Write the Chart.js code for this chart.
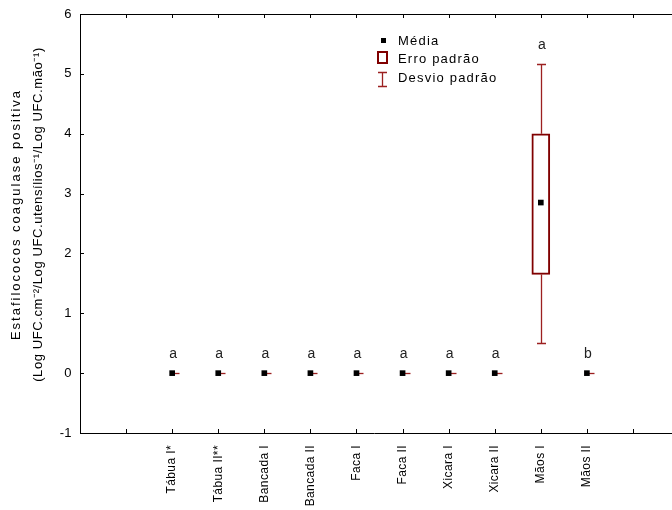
<!DOCTYPE html>
<html>
<head>
<meta charset="utf-8">
<script src="https://cdn.jsdelivr.net/npm/chart.js@4.4.1/dist/chart.umd.min.js"></script>
<style>
  html, body { margin: 0; padding: 0; background: #fff; overflow: hidden; }
  canvas { display: block; }
</style>
</head>
<body>
<canvas id="chart" width="672" height="510"></canvas>
<script>
// values
const categories = ["Tábua I*", "Tábua II**", "Bancada I", "Bancada II", "Faca I", "Faca II", "Xicara I", "Xicara II", "Mãos I", "Mãos II"];
const means  = [0, 0, 0, 0, 0, 0, 0, 0, 2.85, 0];
const seLow  = [0, 0, 0, 0, 0, 0, 0, 0, 1.65, 0];
const seHigh = [0, 0, 0, 0, 0, 0, 0, 0, 4.0, 0];
const sdLow  = [0, 0, 0, 0, 0, 0, 0, 0, 0.5, 0];
const sdHigh = [0, 0, 0, 0, 0, 0, 0, 0, 5.16, 0];
const letters = ["a", "a", "a", "a", "a", "a", "a", "a", "a", "b"];
const yTicks = [-1, 0, 1, 2, 3, 4, 5, 6];
const yTitle = ["Estafilococos coagulase positiva", "(Log UFC.cm⁻²/Log UFC.utensílios⁻¹/Log UFC.mão⁻¹)"];

const RED = "#800000";
const WHISKER = "#9c2020";
const FONT = "'Liberation Sans', Arial, sans-serif";

const boxData = categories
  .map((c, i) => (seHigh[i] > seLow[i] ? { x: i, y: [seLow[i], seHigh[i]] } : null))
  .filter(Boolean);
const meanData = categories.map((c, i) => ({ x: i, y: means[i] }));

const crisp = v => Math.round(v) + 0.5;

const extras = {
  id: "extras",
  beforeDraw(chart) {
    chart.ctx.letterSpacing = "0.4px";
  },
  beforeDatasetsDraw(chart) {
    const { ctx, scales: { x, y } } = chart;
    ctx.save();
    ctx.strokeStyle = WHISKER;
    ctx.lineWidth = 1.3;
    categories.forEach((c, i) => {
      const px = crisp(x.getPixelForValue(i));
      if (sdHigh[i] === sdLow[i]) {
        const py = crisp(y.getPixelForValue(means[i]));
        ctx.beginPath();
        ctx.moveTo(px, py);
        ctx.lineTo(px + 7, py);
        ctx.stroke();
        return;
      }
      const top = crisp(y.getPixelForValue(sdHigh[i]));
      const bot = crisp(y.getPixelForValue(sdLow[i]));
      const bTop = y.getPixelForValue(seHigh[i]);
      const bBot = y.getPixelForValue(seLow[i]);
      ctx.beginPath();
      ctx.moveTo(px, top); ctx.lineTo(px, bTop);
      ctx.moveTo(px, bBot); ctx.lineTo(px, bot);
      ctx.moveTo(px - 4.5, top); ctx.lineTo(px + 4.5, top);
      ctx.moveTo(px - 4.5, bot); ctx.lineTo(px + 4.5, bot);
      ctx.stroke();
    });
    ctx.restore();
  },
  afterDraw(chart) {
    const { ctx, chartArea: a, scales: { x, y } } = chart;
    ctx.save();
    // frame lines run to the edge of the picture, plus inner tick marks
    ctx.strokeStyle = "#000";
    ctx.lineWidth = 1;
    ctx.beginPath();
    ctx.moveTo(a.left, crisp(a.top));
    ctx.lineTo(chart.width, crisp(a.top));
    ctx.moveTo(a.right - 1, crisp(a.bottom));
    ctx.lineTo(chart.width, crisp(a.bottom));
    x.ticks.forEach(t => {
      if (!Number.isInteger(t.value) || t.value <= x.min || t.value >= x.max) return;
      const px = crisp(x.getPixelForValue(t.value));
      ctx.moveTo(px, a.bottom); ctx.lineTo(px, a.bottom - 4);
      ctx.moveTo(px, a.top); ctx.lineTo(px, a.top + 4);
    });
    yTicks.forEach(v => {
      const py = crisp(y.getPixelForValue(v));
      ctx.moveTo(a.left, py); ctx.lineTo(a.left + 4, py);
    });
    ctx.stroke();

    // y axis title, two rotated lines
    ctx.fillStyle = "#000";
    ctx.textAlign = "center";
    ctx.textBaseline = "middle";
    ctx.font = "13px " + FONT;
    const midY = (a.top + a.bottom) / 2 - 9;
    ctx.save();
    ctx.translate(16, midY);
    ctx.rotate(-Math.PI / 2);
    ctx.letterSpacing = "2px";
    ctx.fillText(yTitle[0], 0, 0);
    ctx.restore();
    ctx.save();
    ctx.translate(38, midY);
    ctx.rotate(-Math.PI / 2);
    ctx.letterSpacing = "0.6px";
    ctx.fillText(yTitle[1], 0, 0);
    ctx.restore();

    // group letters above each upper whisker
    ctx.fillStyle = "#222";
    ctx.font = "14px " + FONT;
    ctx.letterSpacing = "0px";
    letters.forEach((l, i) => {
      ctx.fillText(l, x.getPixelForValue(i) + 1, y.getPixelForValue(sdHigh[i]) - 19);
    });

    // legend
    ctx.textAlign = "left";
    ctx.font = "13px " + FONT;
    ctx.letterSpacing = "1.2px";
    ctx.fillStyle = "#000";
    ctx.fillRect(381, 38, 5, 5);
    ctx.fillText("Média", 398, 41.5);
    ctx.strokeStyle = RED;
    ctx.lineWidth = 2;
    ctx.strokeRect(378, 52, 9, 11);
    ctx.fillText("Erro padrão", 398, 59.5);
    ctx.strokeStyle = WHISKER;
    ctx.lineWidth = 1.3;
    ctx.beginPath();
    ctx.moveTo(382.5, 72.5); ctx.lineTo(382.5, 86.5);
    ctx.moveTo(378, 72.5); ctx.lineTo(387, 72.5);
    ctx.moveTo(378, 86.5); ctx.lineTo(387, 86.5);
    ctx.stroke();
    ctx.fillText("Desvio padrão", 398, 78.5);
    ctx.restore();
  }
};

new Chart(document.getElementById("chart"), {
  type: "bar",
  data: {
    datasets: [
      {
        type: "bar",
        label: "Erro padrão",
        data: boxData,
        backgroundColor: "#ffffff",
        borderColor: RED,
        borderWidth: 2,
        borderSkipped: false,
        barThickness: 18,
        order: 2
      },
      {
        type: "scatter",
        label: "Média",
        data: meanData,
        pointStyle: "rect",
        radius: 4,
        backgroundColor: "#000",
        borderWidth: 0,
        order: 1
      }
    ]
  },
  options: {
    responsive: false,
    animation: false,
    devicePixelRatio: 1,
    layout: { padding: { top: 14, right: 0, left: 0, bottom: 0 } },
    plugins: { legend: { display: false }, tooltip: { enabled: false } },
    scales: {
      x: {
        type: "linear",
        min: -2,
        max: 10.76,
        offset: false,
        grid: { display: false },
        border: { color: "#000", width: 1 },
        ticks: {
          stepSize: 1,
          autoSkip: false,
          minRotation: 90,
          maxRotation: 90,
          padding: 4,
          color: "#000",
          font: { size: 12, family: FONT },
          callback: v => categories[v] ?? ""
        },
        afterFit: s => {
          s.height = 77;
          s.paddingLeft = 0;
          s.paddingRight = 0;
        }
      },
      y: {
        min: -1,
        max: 6,
        grid: { display: false, drawTicks: false },
        border: { color: "#000", width: 1 },
        afterBuildTicks: s => { s.ticks = yTicks.map(v => ({ value: v })); },
        ticks: {
          padding: 8,
          color: "#000",
          font: { size: 13, family: FONT }
        },
        afterFit: s => {
          s.width = 80;
          s.paddingTop = 0;
          s.paddingBottom = 0;
        }
      }
    }
  },
  plugins: [extras]
});
</script>
</body>
</html>
